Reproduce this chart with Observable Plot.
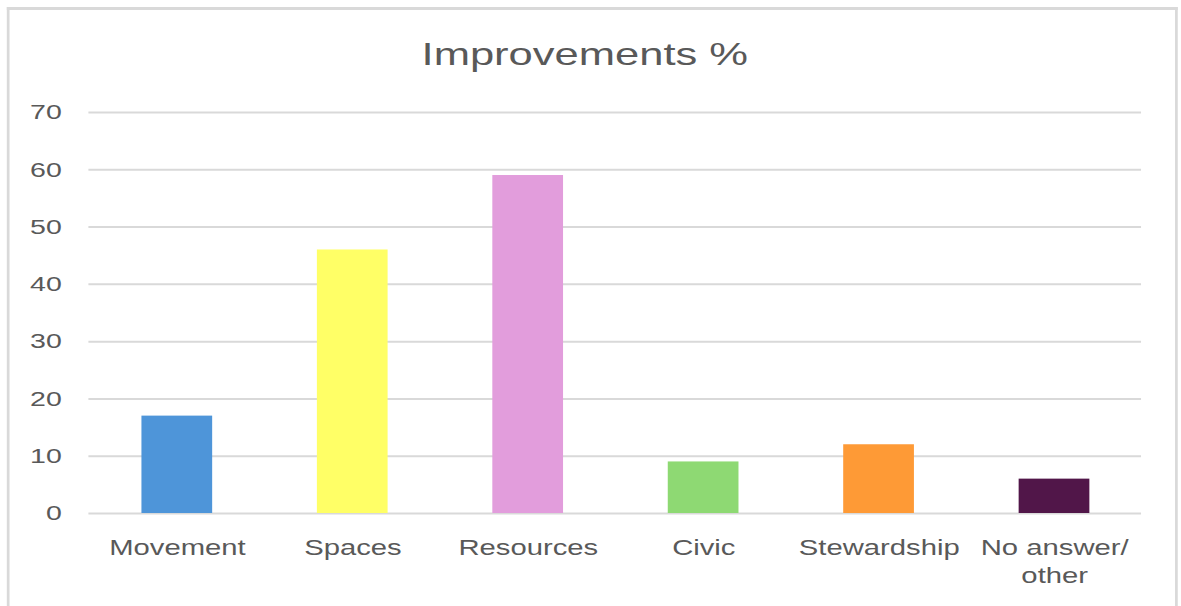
<!DOCTYPE html>
<html>
<head>
<meta charset="utf-8">
<script src="https://cdn.jsdelivr.net/npm/d3@7"></script>
<script src="https://cdn.jsdelivr.net/npm/@observablehq/plot@0.6"></script>
<style>
  html, body { margin: 0; padding: 0; background: #fff; overflow: hidden; }
  #wrap { position: relative; width: 868px; height: 606px; transform: scaleX(1.36); transform-origin: 0 0; font-family: "Liberation Sans", Arial, sans-serif; }
  #frame { position: absolute; left: 5px; top: 7px; width: 857px; height: 640px; border-top: 3px solid #d9d9d9; border-left: 2px solid #d9d9d9; border-right: 2px solid #d9d9d9; pointer-events: none; }
  #title { position: absolute; left: 0; top: 38px; width: 860px; text-align: center; font-size: 32px; line-height: 32px; color: #595959; }
  #chart { position: absolute; left: 0; top: 90px; }
</style>
</head>
<body>
<div id="wrap">
  <div id="frame"></div>
  <div id="title">Improvements %</div>
  <div id="chart"></div>
</div>
<script>
const categories = ["Movement", "Spaces", "Resources", "Civic", "Stewardship", "No answer/ other"];
const tickLabels = ["Movement", "Spaces", "Resources", "Civic", "Stewardship", "No answer/\nother"];
const values = [17, 46, 59, 9, 12, 6];
const colors = ["#4e95d9", "#ffff66", "#e29ddc", "#8ed973", "#fe9a36", "#511649"];
const yTicks = [0, 10, 20, 30, 40, 50, 60, 70];

const data = categories.map((c, i) => ({category: c, value: values[i]}));

const chart = Plot.plot({
  width: 868,
  height: 516,
  marginLeft: 65,
  marginRight: 29,
  marginTop: 22,
  marginBottom: 93,
  style: {fontFamily: "Liberation Sans, Arial, sans-serif", fontSize: "21px", color: "#595959", background: "transparent"},
  x: {domain: categories, paddingInner: 0.6, paddingOuter: 0.3, label: null},
  y: {domain: [0, 70], label: null},
  color: {domain: categories, range: colors},
  marks: [
    Plot.gridY(yTicks, {stroke: "#d9d9d9", strokeOpacity: 1, strokeWidth: 2}),
    Plot.barY(data, {x: "category", y: "value", fill: "category"}),
    Plot.axisY(yTicks, {tickSize: 0, tickPadding: 20, fontSize: 21, label: null}),
    Plot.axisX({tickSize: 0, tickPadding: 22, fontSize: 21.5, lineHeight: 1.3, label: null,
      tickFormat: d => tickLabels[categories.indexOf(d)]})
  ]
});
document.getElementById("chart").appendChild(chart);
</script>
</body>
</html>
